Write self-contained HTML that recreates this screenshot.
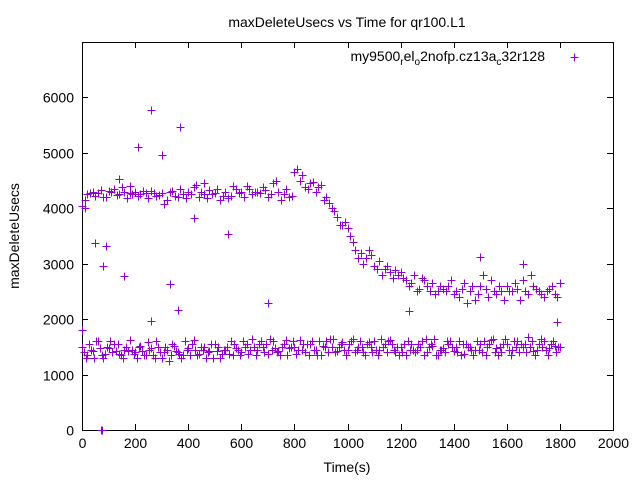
<!DOCTYPE html>
<html><head><meta charset="utf-8"><style>
html,body{margin:0;padding:0;background:#fff;}
svg{display:block;font-family:"Liberation Sans",sans-serif;}
</style></head><body>
<svg id="chart" width="640" height="480">
<rect width="640" height="480" fill="#fff"/>
<text x="347" y="27" text-anchor="middle" font-size="14">maxDeleteUsecs vs Time for qr100.L1</text>
<text transform="translate(19,236) rotate(-90)" text-anchor="middle" font-size="14">maxDeleteUsecs</text>
<text x="347" y="472" text-anchor="middle" font-size="14">Time(s)</text>
<g id="axes"></g>
<g id="marks"></g>
<g>
<text x="545" y="61" text-anchor="end" font-size="14">my9500<tspan font-size="10" dy="4">r</tspan><tspan dy="-4">el</tspan><tspan font-size="10" dy="4">o</tspan><tspan dy="-4">2nofp.cz13a</tspan><tspan font-size="10" dy="4">c</tspan><tspan dy="-4">32r128</tspan></text>
<path d="M570.5,57.5h8M574.5,53.5v8" stroke="#9400d3" stroke-width="1"/>
</g>
</svg>
<script>
const xTicks=[0,200,400,600,800,1000,1200,1400,1600,1800,2000];
const yTicks=[0,1000,2000,3000,4000,5000,6000];
const upperA=[4050,4250,4300,4280,4200,4320,4350,4250,4300,4270,4300,4250,4280,4310,4230,4270,4150,4320,4200,4260,4300,4380,4200,4250,4330,4270,4150,4300,4220,4350,4300,4400,4250,4300,4380,4200,4450,4300,4250,4200,4650,4500,4380,4450,4300,4420,4200,4000,3850,3700,3650,3400,3100,3000,3250,2950,3050,2900,2850,2880,2850,2700,2650,2500,2750,2600,2650,2500,2550,2600,2450,2400,2650,2500,2350,2600,2550,2700,2450,2500,2600,2500,2550,2700,2450,2600,2500,2400,2550,2450,2650];
const upperB=[4150,4280,4220,4330,4200,4290,4240,4380,4180,4260,4230,4320,4190,4280,4240,4080,4300,4220,4350,4180,4250,4420,4300,4180,4260,4350,4230,4180,4400,4280,4200,4350,4300,4280,4330,4250,4500,4150,4350,4230,4700,4600,4350,4480,4380,4150,4100,3950,3700,3750,3500,3250,3200,3100,3150,2900,2800,2950,2750,2800,2750,2600,2800,2550,2700,2500,2450,2600,2500,2700,2500,2550,2300,2600,2450,2800,2400,2500,2600,2350,2500,2650,2350,2500,2800,2550,2450,2500,2600,2400];
const lower1=[1500,1350,1420,1600,1300,1480,1550,1380,1450,1620,1400,1520,1350,1480,1600,1300,1450,1550,1400,1350,1480,1620,1380,1500,1420,1550,1300,1450,1600,1480,1400,1550,1650,1450,1500,1380,1600,1420,1550,1480,1500,1620,1400,1550,1450,1350,1600,1500,1420,1580,1450,1650,1500,1400,1580,1600,1450,1550,1620,1400,1500,1350,1550,1450,1600,1400,1520,1350,1480,1550,1420,1600,1380,1500,1450,1550,1350,1620,1480,1400,1550,1450,1600,1500,1680,1420,1550,1600,1480,1520,1500];
const lower2=[1400,1550,1300,1480,1380,1600,1420,1350,1500,1450,1300,1420,1580,1350,1500,1400,1250,1520,1380,1600,1350,1450,1500,1300,1550,1420,1380,1500,1350,1450,1600,1380,1500,1550,1400,1650,1480,1350,1620,1500,1380,1450,1550,1600,1350,1520,1400,1650,1500,1450,1550,1400,1600,1350,1500,1450,1650,1400,1550,1500,1400,1600,1450,1550,1350,1500,1650,1450,1400,1600,1500,1350,1550,1450,1600,1400,1500,1650,1350,1550,1450,1600,1400,1550,1500,1350,1650,1450,1550,1400];
const lower3=[1300,1450,1600,1350,1500,1400,1550,1300,1420,1380,1500,1350,1450,1300,1400,1500,1350,1420,1300,1450,1550,1350,1450,1400,1300,1500,1450,1380,1550,1350,1500,1450,1350,1600,1550,1450,1400,1500,1350,1600,1450,1550,1350,1450,1600,1500,1650,1400,1550,1350,1600,1450,1500,1550,1400,1350,1500,1600,1450,1350,1550,1450,1400,1500,1650,1550,1350,1450,1600,1500,1400,1550,1500,1350,1450,1600,1550,1400,1500,1650,1350,1500,1550,1400,1600,1450,1500,1350,1600,1500];
const outlierT=[10,50,90,80,160,210,260,300,370,140,420,550,700,260,360,330,1230,1500,1660,70,75,0,1790,120,460,180];
const outlierV=[4000,3380,3320,2960,2780,5100,5780,4970,5460,4520,3830,3530,2300,1960,2160,2630,2150,3130,3000,0,0,1800,1950,4350,4450,4400];
const L=82,R=613,T=42,B=430,XMAX=2000,YMAX=7000;
const X=v=>L+v/XMAX*(R-L), Y=v=>B-v/YMAX*(B-T);
const NS='http://www.w3.org/2000/svg';
const axes=document.getElementById('axes'), marks=document.getElementById('marks');
function mk(tag,attrs,parent){const e=document.createElementNS(NS,tag);for(const k in attrs)e.setAttribute(k,attrs[k]);parent.appendChild(e);return e;}
const frame=mk('rect',{x:L+.5,y:T+.5,width:R-L,height:B-T,fill:'none',stroke:'#000','stroke-width':1},axes);


xTicks.forEach(t=>{const x=Math.round(X(t))+.5;
 mk('path',{d:`M${x},${B}v-6M${x},${T}v6`,stroke:'#000'},axes);
 const tx=mk('text',{x:x,y:B+18,'text-anchor':'middle','font-size':14},axes);tx.textContent=t;
 
 });
yTicks.forEach(t=>{const y=Math.round(Y(t))+.5;
 mk('path',{d:`M${L},${y}h6M${R},${y}h-6`,stroke:'#000'},axes);
 const tx=mk('text',{x:L-8,y:y+5,'text-anchor':'end','font-size':14},axes);tx.textContent=t;
 
 });
function plus(t,v){const x=Math.round(X(t))+.5,y=Math.round(Y(v))+.5;
 const p=mk('path',{d:`M${x-4},${y}h8M${x},${y-4}v8`,stroke:'#9400d3','stroke-width':1},marks);
 
 }
upperA.forEach((v,i)=>plus(i*20,v));
upperB.forEach((v,i)=>plus(10+i*20,v));
lower1.forEach((v,i)=>plus(i*20,v));
lower2.forEach((v,i)=>plus(7+i*20,v));
lower3.forEach((v,i)=>plus(14+i*20,v));
outlierT.forEach((t,i)=>plus(t,outlierV[i]));
</script>
</body></html>
